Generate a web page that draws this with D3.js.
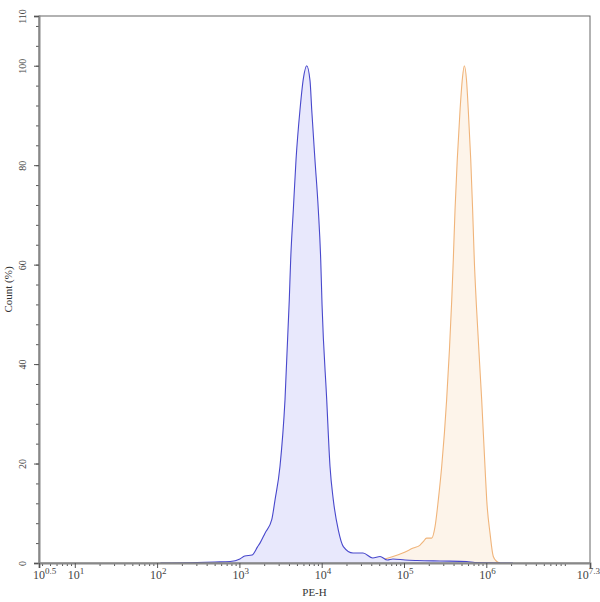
<!DOCTYPE html>
<html>
<head>
<meta charset="utf-8">
<script src="https://cdn.jsdelivr.net/npm/d3@7"></script>
<style>
  body { margin: 0; background: #fff; }
  text { font-family: "Liberation Serif", "Times New Roman", serif; fill: #333; }
</style>
</head>
<body>
<div id="chart"></div>
<script>
// PE-H histogram, x values are log10 of the intensity, y in count %
var blueLog = [2.041, 2.484, 2.701, 2.888, 3.006, 3.065, 3.153, 3.222, 3.250, 3.311, 3.393, 3.433, 3.493, 3.554, 3.606, 3.623, 3.655, 3.688, 3.736, 3.778, 3.818,
               3.858, 3.879, 3.918, 3.959, 3.988, 4.004, 4.061, 4.101, 4.141, 4.202, 4.263, 4.381, 4.502, 4.620, 4.709, 4.797, 4.866, 5.014, 5.161, 5.437, 5.762, 5.860, 6.165, 6.323];
var blueCount = [0, 0.1, 0.2, 0.3, 0.8, 1.4, 1.6, 3.3, 4.0, 6.0, 8.7, 12.7, 19.4, 32.8, 52.9, 61.0, 71.0, 81.1, 91.1, 97.5, 100,
                 97, 91.1, 81.1, 71.0, 61.0, 52.0, 32.8, 19.4, 12.7, 6.6, 3.3, 2.0, 2.0, 1.0, 1.3, 0.6, 0.8, 0.6, 0.5, 0.4, 0.3, 0.1, 0, 0];

var orangeLog = [4.305, 4.709, 4.866, 4.984, 5.112, 5.195, 5.234, 5.275, 5.336, 5.377, 5.417, 5.458, 5.518, 5.580, 5.599, 5.620, 5.647, 5.681, 5.710, 5.733,
                 5.760, 5.781, 5.811, 5.834, 5.854, 5.879, 5.944, 5.984, 6.005, 6.045, 6.085, 6.127, 6.165];
var orangeCount = [0, 0.6, 1.3, 2.0, 3.0, 3.6, 4.3, 5.0, 5.0, 7.3, 12.7, 19.4, 32.8, 52.9, 61.0, 71.0, 81.1, 91.1, 97.5, 100,
                   97, 91.1, 81.1, 71.0, 61.0, 52.0, 32.8, 19.4, 12.7, 6.0, 1.3, 0.3, 0];

var xMajorExp = [0.5, 1, 2, 3, 4, 5, 6, 7.3];
var yMajor = [0, 20, 40, 60, 80, 100, 110];

function chart(){
    var margin = {top: 16, right: 10, bottom: 39, left: 39},
        width = 600 - margin.left - margin.right,
        height = 602 - margin.top - margin.bottom;

    var svg = d3.select("#chart")
      .append("svg")
        .attr("width", 600)
        .attr("height", 602)
      .append("g")
        .attr("transform", "translate(" + margin.left + "," + margin.top + ")");

    // visible decades are ~82px wide, end labels sit on the frame edges
    var x = d3.scaleLog()
      .domain([Math.pow(10, 0.565), Math.pow(10, 7.26)])
      .range([0, width])
      .clamp(true);

    var y = d3.scaleLinear()
      .domain([0, 110])
      .range([height, 0]);

    // filled histograms
    function drawSeries(logs, counts, stroke, fill){
        var pts = logs.map(function(d, i){ return [Math.pow(10, d), counts[i]]; });
        var area = d3.area()
          .x(function(d){ return x(d[0]); })
          .y0(y(0))
          .y1(function(d){ return y(d[1]); })
          .curve(d3.curveMonotoneX);
        var line = d3.line()
          .x(function(d){ return x(d[0]); })
          .y(function(d){ return y(d[1]); })
          .curve(d3.curveMonotoneX);
        svg.append("path").datum(pts).attr("d", area).attr("fill", fill);
        svg.append("path").datum(pts).attr("d", line)
          .attr("fill", "none").attr("stroke", stroke).attr("stroke-width", 1.1);
    }
    drawSeries(orangeLog, orangeCount, "#f0b47a", "#fdf4ea");
    drawSeries(blueLog, blueCount, "#4848cc", "#e8e8fc");

    // frame
    svg.append("rect")
      .attr("width", width).attr("height", height)
      .attr("fill", "none").attr("stroke", "#666").attr("stroke-width", 1);

    // y axis
    var yMinor = d3.range(0, 111, 4);
    svg.append("g")
      .call(d3.axisLeft(y).tickValues(yMinor).tickSize(3).tickFormat(""))
      .call(function(g){ g.select(".domain").remove(); })
      .selectAll("line").attr("stroke", "#555");
    var gy = svg.append("g")
      .call(d3.axisLeft(y).tickValues(yMajor).tickSize(5).tickFormat(d3.format("d")));
    gy.select(".domain").attr("stroke", "#888").attr("stroke-width", 2);
    gy.selectAll("line").attr("stroke", "#555");
    gy.selectAll("text")
      .attr("x", 0).attr("dy", 0)
      .attr("transform", "translate(-13,0)rotate(-90)")
      .style("text-anchor", "middle")
      .style("font-size", "10px")
      .style("fill", "#444");

    // x axis
    var xMinor = [];
    for (var e = 0; e <= 7; e++){
        for (var k = 2; k <= 9; k++){
            var v = k * Math.pow(10, e);
            if (v > x.domain()[0] && v < x.domain()[1]) xMinor.push(v);
        }
    }
    svg.append("g")
      .attr("transform", "translate(0," + height + ")")
      .call(d3.axisBottom(x).tickValues(xMinor).tickSize(3).tickFormat(""))
      .call(function(g){ g.select(".domain").remove(); })
      .selectAll("line").attr("stroke", "#555");
    var gx = svg.append("g")
      .attr("transform", "translate(0," + height + ")")
      .call(d3.axisBottom(x).tickValues(xMajorExp.map(function(d){ return Math.pow(10, d); })).tickSize(5).tickFormat(""));
    gx.select(".domain").attr("stroke", "#888").attr("stroke-width", 2);
    gx.selectAll("line").attr("stroke", "#555");

    var last = xMajorExp.length - 1;
    var lab = svg.append("g").selectAll("text")
      .data(xMajorExp)
      .enter()
      .append("text")
        .attr("x", function(d, i){
            var px = x(Math.pow(10, d));
            if (i === last) return px + 10;
            return i === 0 ? px - 6 : px - 7;
        })
        .attr("y", height + 16)
        .style("text-anchor", function(d, i){ return i === last ? "end" : "start"; })
        .style("font-size", "12px")
        .style("fill", "#444");
    lab.append("tspan").text("10");
    lab.append("tspan")
      .attr("dy", -5)
      .style("font-size", "9px")
      .text(function(d){ return d; });

    // axis titles
    svg.append("text")
      .attr("x", width / 2)
      .attr("y", height + 33)
      .style("text-anchor", "middle")
      .style("font-size", "11px")
      .text("PE-H");

    svg.append("text")
      .attr("transform", "translate(-27," + (height / 2) + ")rotate(-90)")
      .style("text-anchor", "middle")
      .style("font-size", "11px")
      .text("Count  (%)");
}

chart();
</script>
</body>
</html>
